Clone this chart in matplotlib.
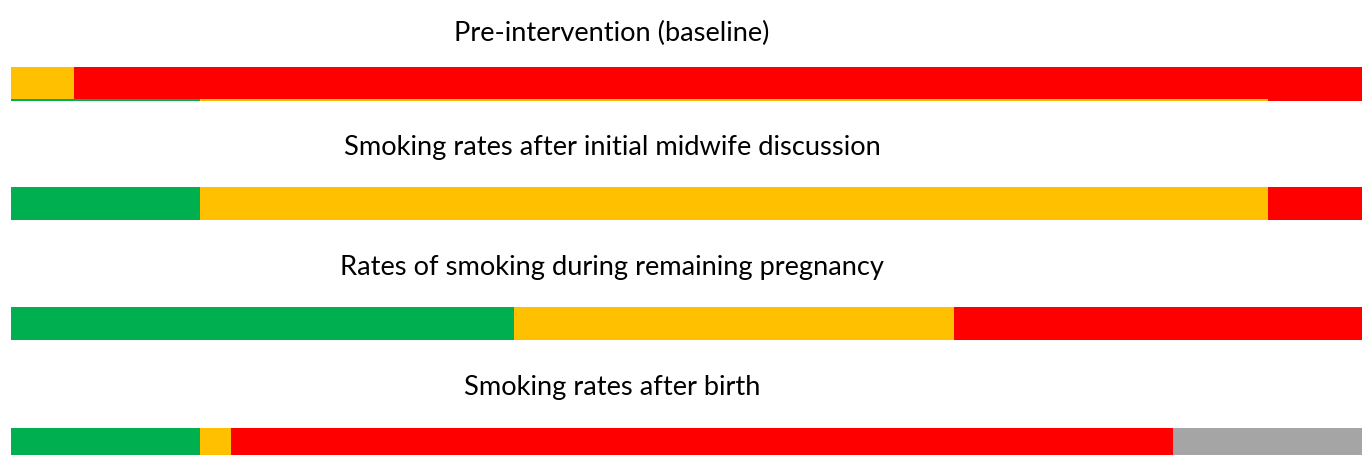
#!/usr/bin/env python3
"""Smoking status across pregnancy stages: four 100% stacked bars with titles."""

import matplotlib
matplotlib.use('Agg')
import matplotlib.pyplot as plt

plt.rcParams['font.family'] = ['Lato', 'DejaVu Sans']

# ── Data (number of women in each category) ──────────────────────────────────
titles = [
    'Pre-intervention (baseline)',
    'Smoking rates after initial midwife discussion',
    'Rates of smoking during remaining pregnancy',
    'Smoking rates after birth',
]
categories = ['Non-smoker', 'Reduced', 'Smoker', 'Unknown']
baseline    = [0, 2, 41, 0]
after_disc  = [6, 34, 3, 0]
remaining   = [16, 14, 13, 0]
after_birth = [6, 1, 30, 6]
stages = [baseline, after_disc, remaining, after_birth]

colors = ['#00B050', '#FFC000', '#FF0000', '#A5A5A5']

# ── Layout in pixels ──────────────────────────────────────────────────────────
W, H = 1362, 456
bar_left, bar_right = 11, 1362
bar_tops    = [68.4, 188.4, 308.4, 429.4]
bar_heights = [32, 33, 33, 33]
title_y     = [33, 147, 268, 388]
title_x     = 612

fig = plt.figure(figsize=(W / 100, H / 100), dpi=100)


def stacked(ax, counts, y, h):
    left = 0
    for c, col in zip(counts, colors):
        if c > 0:
            ax.barh(y, c, left=left, height=h, color=col, edgecolor='none',
                    align='edge')
        left += c


total = sum(baseline)
for i, (counts, top, bh) in enumerate(zip(stages, bar_tops, bar_heights)):
    extra = 2 if i == 0 else 0   # thin strip of the next bar peeking below
    ax = fig.add_axes([bar_left / W, 1 - (top + bh + extra) / H,
                       (bar_right - bar_left) / W, (bh + extra) / H])
    if extra:
        stacked(ax, stages[1], 0, extra)
    stacked(ax, counts, extra, bh)
    ax.set_xlim(0, total)
    ax.set_ylim(0, bh + extra)
    ax.axis('off')
    fig.text(title_x / W, 1 - title_y[i] / H, titles[i], ha='center',
             va='center', fontsize=19.6, color='#000000')

fig.savefig('out.png', dpi=100)
